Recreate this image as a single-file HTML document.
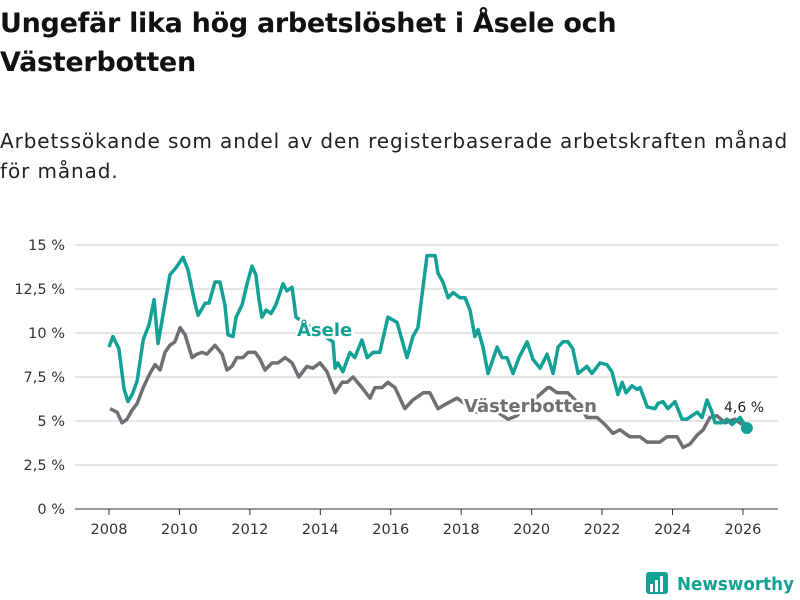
<!DOCTYPE html>
<html><head><meta charset="utf-8"><style>
body{margin:0;width:800px;height:600px;background:#fff;font-family:"DejaVu Sans","Liberation Sans",sans-serif;overflow:hidden;position:relative}
h1{position:absolute;left:0;top:4px;margin:0;font-size:27px;line-height:39px;font-weight:bold;color:#111;width:700px;letter-spacing:-0.3px}
p{position:absolute;left:0;top:126px;margin:0;font-size:20px;line-height:30px;color:#222;width:790px;letter-spacing:0.9px}
svg{position:absolute;left:0;top:0}
</style></head><body>
<h1>Ungefär lika hög arbetslöshet i Åsele och Västerbotten</h1>
<p>Arbetssökande som andel av den registerbaserade arbetskraften månad för månad.</p>
<svg id="chart" width="800" height="600"></svg>
<script>
const yTicks=[0,2.5,5,7.5,10,12.5,15];
const yTickLabels=["0 %","2,5 %","5 %","7,5 %","10 %","12,5 %","15 %"];
const xTicks=[2008,2010,2012,2014,2016,2018,2020,2022,2024,2026];
const aseleDates=[2008.00,2008.11,2008.28,2008.43,2008.54,2008.68,2008.80,2008.97,2009.14,2009.28,2009.39,2009.53,2009.73,2009.90,2010.10,2010.24,2010.44,2010.53,2010.73,2010.84,2011.01,2011.15,2011.29,2011.38,2011.52,2011.61,2011.78,2011.92,2012.06,2012.17,2012.26,2012.34,2012.46,2012.60,2012.74,2012.94,2013.05,2013.20,2013.31,2014.36,2014.42,2014.50,2014.64,2014.84,2014.98,2015.18,2015.33,2015.50,2015.69,2015.92,2016.18,2016.32,2016.46,2016.63,2016.77,2017.03,2017.26,2017.34,2017.48,2017.63,2017.77,2017.97,2018.11,2018.25,2018.39,2018.48,2018.62,2018.76,2019.02,2019.16,2019.30,2019.47,2019.64,2019.87,2020.04,2020.24,2020.44,2020.61,2020.75,2020.89,2021.03,2021.17,2021.32,2021.57,2021.71,2021.94,2022.14,2022.28,2022.45,2022.57,2022.68,2022.85,2022.99,2023.08,2023.28,2023.50,2023.59,2023.73,2023.87,2024.07,2024.27,2024.41,2024.55,2024.70,2024.84,2024.98,2025.12,2025.21,2025.40,2025.55,2025.69,2025.92,2026.11];
const aseleValues=[9.2,9.8,9.1,6.8,6.1,6.6,7.3,9.6,10.5,11.9,9.4,11.0,13.3,13.7,14.3,13.6,11.7,11.0,11.7,11.7,12.9,12.9,11.6,9.9,9.8,10.9,11.6,12.8,13.8,13.3,11.9,10.9,11.3,11.1,11.6,12.8,12.4,12.6,10.9,9.5,8.0,8.3,7.8,8.9,8.6,9.6,8.6,8.9,8.9,10.9,10.6,9.6,8.6,9.8,10.3,14.4,14.4,13.4,12.9,12.0,12.3,12.0,12.0,11.3,9.8,10.2,9.2,7.7,9.2,8.6,8.6,7.7,8.6,9.5,8.5,8.0,8.8,7.7,9.2,9.5,9.5,9.1,7.7,8.1,7.7,8.3,8.2,7.8,6.5,7.2,6.6,7.0,6.8,6.9,5.8,5.7,6.0,6.1,5.7,6.1,5.1,5.1,5.3,5.5,5.2,6.2,5.5,4.9,4.9,5.1,4.8,5.2,4.6];
const vbDates=[2008.03,2008.23,2008.37,2008.51,2008.65,2008.80,2008.97,2009.16,2009.31,2009.45,2009.59,2009.73,2009.87,2010.02,2010.16,2010.36,2010.50,2010.64,2010.78,2011.01,2011.21,2011.35,2011.49,2011.63,2011.80,2011.95,2012.15,2012.29,2012.43,2012.63,2012.80,2013.00,2013.20,2013.39,2013.62,2013.79,2013.99,2014.19,2014.42,2014.62,2014.76,2014.93,2015.18,2015.41,2015.55,2015.75,2015.92,2016.12,2016.40,2016.63,2016.92,2017.11,2017.34,2017.60,2017.88,2018.45,2018.96,2019.33,2019.58,2019.95,2020.46,2020.52,2020.72,2020.89,2021.03,2021.37,2021.57,2021.86,2022.08,2022.31,2022.51,2022.79,2023.08,2023.28,2023.45,2023.64,2023.84,2024.13,2024.30,2024.50,2024.70,2024.87,2025.06,2025.26,2025.49,2025.77,2025.97];
const vbValues=[5.7,5.5,4.9,5.1,5.6,6.0,6.9,7.7,8.2,7.9,8.9,9.3,9.5,10.3,9.9,8.6,8.8,8.9,8.8,9.3,8.8,7.9,8.1,8.6,8.6,8.9,8.9,8.5,7.9,8.3,8.3,8.6,8.3,7.5,8.1,8.0,8.3,7.8,6.6,7.2,7.2,7.5,6.9,6.3,6.9,6.9,7.2,6.9,5.7,6.2,6.6,6.6,5.7,6.0,6.3,5.5,5.6,5.1,5.3,6.0,6.9,6.9,6.6,6.6,6.6,5.9,5.2,5.2,4.8,4.3,4.5,4.1,4.1,3.8,3.8,3.8,4.1,4.1,3.5,3.7,4.2,4.5,5.2,5.3,4.9,5.1,4.8];
const svg=document.getElementById('chart');const NS='http://www.w3.org/2000/svg';
const X=d=>109+(d-2008)*35.22;const Y=v=>509-v*17.6;
function mk(t,a,txt){const e=document.createElementNS(NS,t);for(const k in a)e.setAttribute(k,a[k]);if(txt!==undefined)e.textContent=txt;svg.appendChild(e);return e;}
yTicks.forEach((v,i)=>{
 const l=mk('line',{x1:75,x2:778,y1:Y(v),y2:Y(v),stroke:v===0?'#333':'#ddd','stroke-width':v===0?1:1.5});
 
 
 const t=mk('text',{x:65,y:Y(v)+5,'text-anchor':'end','font-size':14.5,fill:'#333'},yTickLabels[i]);
 
 
});
xTicks.forEach(d=>{
 const l=mk('line',{x1:X(d),x2:X(d),y1:509,y2:515,stroke:'#333'});
 
 
 const t=mk('text',{x:X(d),y:534,'text-anchor':'middle','font-size':14.5,fill:'#333'},String(d));
 
 
});
function path(ds,vs){return ds.map((d,i)=>(i?'L':'M')+X(d).toFixed(1)+','+Y(vs[i]).toFixed(1)).join('');}
const vb=mk('path',{d:path(vbDates,vbValues),fill:'none',stroke:'#6f6e73','stroke-width':3.5,'stroke-linejoin':'round'});


const as=mk('path',{d:path(aseleDates,aseleValues),fill:'none',stroke:'#13a196','stroke-width':3.5,'stroke-linejoin':'round'});


const last=aseleDates.length-1;
const dot=mk('circle',{cx:X(aseleDates[last]),cy:Y(aseleValues[last]),r:6,fill:'#13a196'});


const l1=mk('text',{x:297,y:336,'font-size':18,'font-weight':'bold',fill:'#13a196',stroke:'#fff','stroke-width':5,'paint-order':'stroke'},'Åsele');


const l2=mk('text',{x:464,y:412,'font-size':18,'font-weight':'bold',fill:'#6f6e73',stroke:'#fff','stroke-width':5,'paint-order':'stroke'},'Västerbotten');


const l3=mk('text',{x:724,y:412,'font-size':14,fill:'#222',stroke:'#fff','stroke-width':4,'paint-order':'stroke'},'4,6 %');


const g=mk('g',{});


[[646,572,22,22,'#13a196']].forEach(r=>{const e=document.createElementNS(NS,'rect');e.setAttribute('x',r[0]);e.setAttribute('y',r[1]);e.setAttribute('width',r[2]);e.setAttribute('height',r[3]);e.setAttribute('rx',3);e.setAttribute('fill',r[4]);g.appendChild(e);});
[[650,584,3,8],[655,580,3,12],[660,576,3,16]].forEach(r=>{const e=document.createElementNS(NS,'rect');e.setAttribute('x',r[0]);e.setAttribute('y',r[1]);e.setAttribute('width',r[2]);e.setAttribute('height',r[3]);e.setAttribute('fill','#fff');g.appendChild(e);});
const lt=document.createElementNS(NS,'text');lt.setAttribute('x',677);lt.setAttribute('y',590);lt.setAttribute('font-size',18);lt.setAttribute('font-weight','bold');lt.setAttribute('fill','#13a196');lt.setAttribute('textLength',117);lt.setAttribute('lengthAdjust','spacingAndGlyphs');lt.textContent='Newsworthy';g.appendChild(lt);
</script>
</body></html>
